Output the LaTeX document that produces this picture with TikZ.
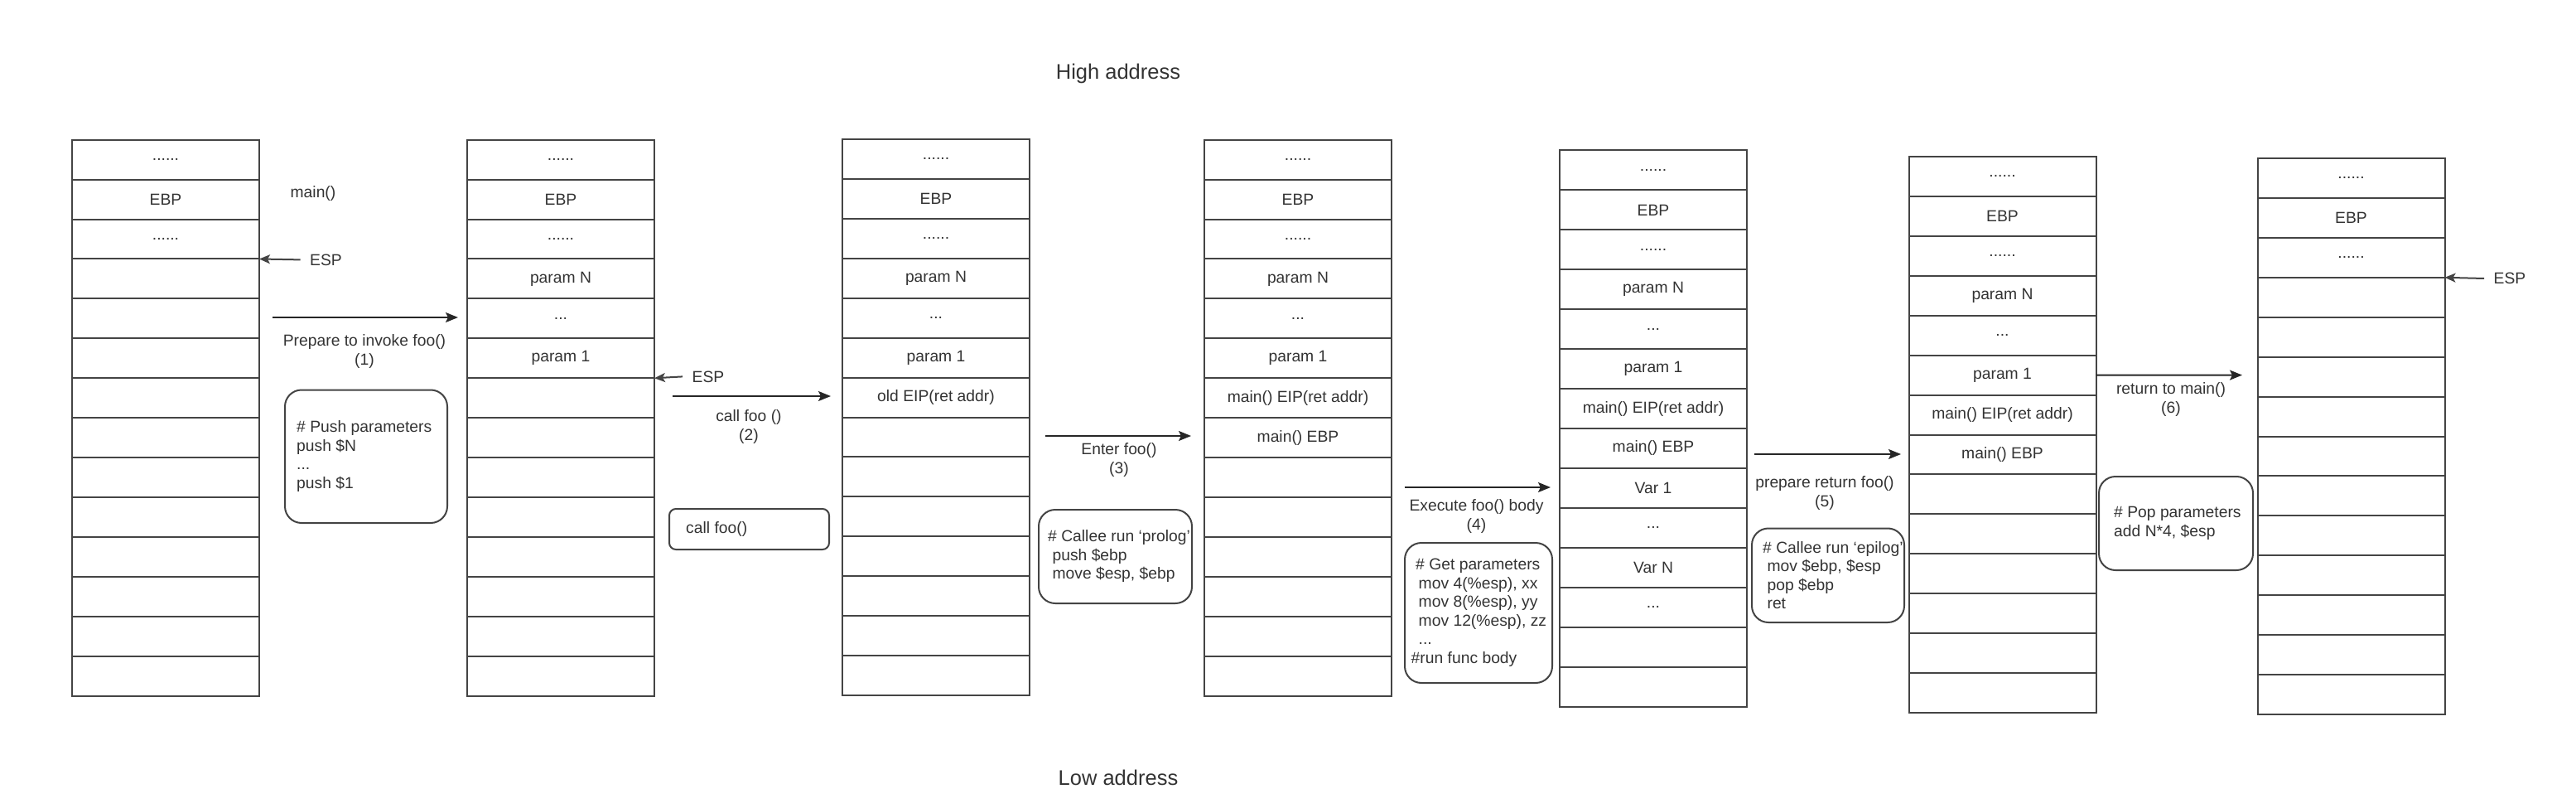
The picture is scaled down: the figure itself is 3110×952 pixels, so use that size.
\documentclass[tikz,border=0pt]{standalone}
\usepackage{fontspec}
\setmainfont{Liberation Sans}
\usetikzlibrary{arrows.meta}
\definecolor{ink}{HTML}{333333}
\definecolor{edge}{HTML}{444444}
\newcommand{\sixd}{......}
\newcommand{\thrd}{...}
\newcommand{\memstack}[4]{%
  \foreach \ctext [count=\rowidx] in {#4} {%
    \node[cell] (#1-\rowidx) at (#2,{#3+(\rowidx-0.5)*47.93}) {\ctext};%
  }%
}
\begin{document}
\begin{tikzpicture}[x=1pt,y=-1pt,
  every node/.style={font=\fontsize{19.3}{22.5}\selectfont,text=ink},
  cell/.style={draw=edge,line width=2pt,minimum width=226pt,minimum height=47.93pt,inner sep=0pt,outer sep=0pt},
  note/.style={draw=edge,line width=2pt,rounded corners=20pt,inner sep=0pt,outer sep=0pt},
  notetext/.style={align=left,inner sep=0pt,anchor=west},
  flow/.style={draw=black!85,line width=2pt,-{Stealth[length=15pt,width=12pt,inset=3pt]}},
  pointer/.style={draw=edge,line width=2pt,-{Stealth[length=13pt,width=11pt,inset=3pt]}},
  addr/.style={font=\fontsize{25.5}{30}\selectfont}]
\useasboundingbox (0,0) rectangle (3110,952);

% address labels
\node[addr] (high) at (1350,89) {High address};
\node[addr] (low) at (1350,938) {Low address};

% stacks
\memstack{s1}{200}{168.7}{\sixd,EBP,\sixd,{},{},{},{},{},{},{},{},{},{},{}}
\memstack{s2}{677}{168.7}{\sixd,EBP,\sixd,param N,\thrd,param 1,{},{},{},{},{},{},{},{}}
\memstack{s3}{1130}{168}{\sixd,EBP,\sixd,param N,\thrd,param 1,old EIP(ret addr),{},{},{},{},{},{},{}}
\memstack{s4}{1567}{168.7}{\sixd,EBP,\sixd,param N,\thrd,param 1,main() EIP(ret addr),main() EBP,{},{},{},{},{},{}}
\memstack{s5}{1996}{181.5}{\sixd,EBP,\sixd,param N,\thrd,param 1,main() EIP(ret addr),main() EBP,Var 1,\thrd,Var N,\thrd,{},{}}
\memstack{s6}{2417.5}{189}{\sixd,EBP,\sixd,param N,\thrd,param 1,main() EIP(ret addr),main() EBP,{},{},{},{},{},{}}
\memstack{s7}{2838.5}{191}{\sixd,EBP,\sixd,{},{},{},{},{},{},{},{},{},{},{}}

% main() and ESP pointers
\node (mainl) at (378,234) {main()};
\node (esp1) at (393.5,313.4) {ESP};
\draw[pointer] ([xshift=-8pt]esp1.west) -- (s1-3.south east);
\node (esp2) at (855,454.4) {ESP};
\draw[pointer] ([xshift=-8pt]esp2.west) -- (s2-6.south east);
\node (esp3) at (3030,336) {ESP};
\draw[pointer] ([xshift=-8pt]esp3.west) -- (s7-3.south east);

% step arrows
\coordinate (a1s) at (329,383); \coordinate (a1e) at (553,383);
\draw[flow] (a1s) -- (a1e);
\node[align=center] (l1) at (440,424) {Prepare to invoke foo()\\(1)};

\coordinate (a2s) at (812,478); \coordinate (a2e) at (1003,478);
\draw[flow] (a2s) -- (a2e);
\node[align=center] (l2) at (904,515) {call foo ()\\(2)};

\coordinate (a3s) at (1262,526); \coordinate (a3e) at (1438,526);
\draw[flow] (a3s) -- (a3e);
\node[align=center] (l3) at (1351,555) {Enter foo()\\(3)};

\coordinate (a4s) at (1695.5,588); \coordinate (a4e) at (1872,588);
\draw[flow] (a4s) -- (a4e);
\node[align=center] (l4) at (1782.5,623) {Execute foo() body\\(4)};

\coordinate (a5s) at (2118,548); \coordinate (a5e) at (2295,548);
\draw[flow] (a5s) -- (a5e);
\node[align=center] (l5) at (2203,595) {prepare return foo()\\(5)};

\coordinate (a6e) at (2707,452.6);
\draw[flow] (s6-6.east) -- (a6e);
\node[align=center] (l6) at (2621,482) {return to main()\\(6)};

% note boxes
\node[note,minimum width=196pt,minimum height=160.5pt] (b1) at (442,550.75) {};
\node[notetext] (b1t) at ([xshift=14pt]b1.west) {\# Push parameters\\push \$N\\...\\push \$1};

\node[note,rounded corners=8pt,minimum width=193pt,minimum height=49pt] (b2) at (904.5,638.5) {};
\node[notetext] (b2t) at ([xshift=20pt]b2.west) {call foo()};

\node[note,minimum width=185pt,minimum height=113pt] (b3) at (1346.5,671.5) {};
\node[notetext] (b3t) at ([xshift=11pt]b3.west) {\# Callee run `prolog'\\\ push \$ebp\\\ move \$esp, \$ebp};

\node[note,minimum width=178pt,minimum height=169pt] (b4) at (1785,739.5) {};
\node[notetext] (b4t) at ([xshift=7.5pt]b4.west) {\hspace{5.5pt}\# Get parameters\\\hspace{9pt}mov 4(\%esp), xx\\\hspace{9pt}mov 8(\%esp), yy\\\hspace{9pt}mov 12(\%esp), zz\\\hspace{9pt}...\\\#run func body};

\node[note,minimum width=184pt,minimum height=113.5pt] (b5) at (2207,694.25) {};
\node[notetext] (b5t) at ([xshift=13pt]b5.west) {\# Callee run `epilog'\\\ mov \$ebp, \$esp\\\ pop \$ebp\\\ ret};

\node[note,minimum width=186pt,minimum height=113pt] (b6) at (2627,631.5) {};
\node[notetext] (b6t) at ([xshift=18pt]b6.west) {\# Pop parameters\\add N*4, \$esp};
\end{tikzpicture}
\end{document}
